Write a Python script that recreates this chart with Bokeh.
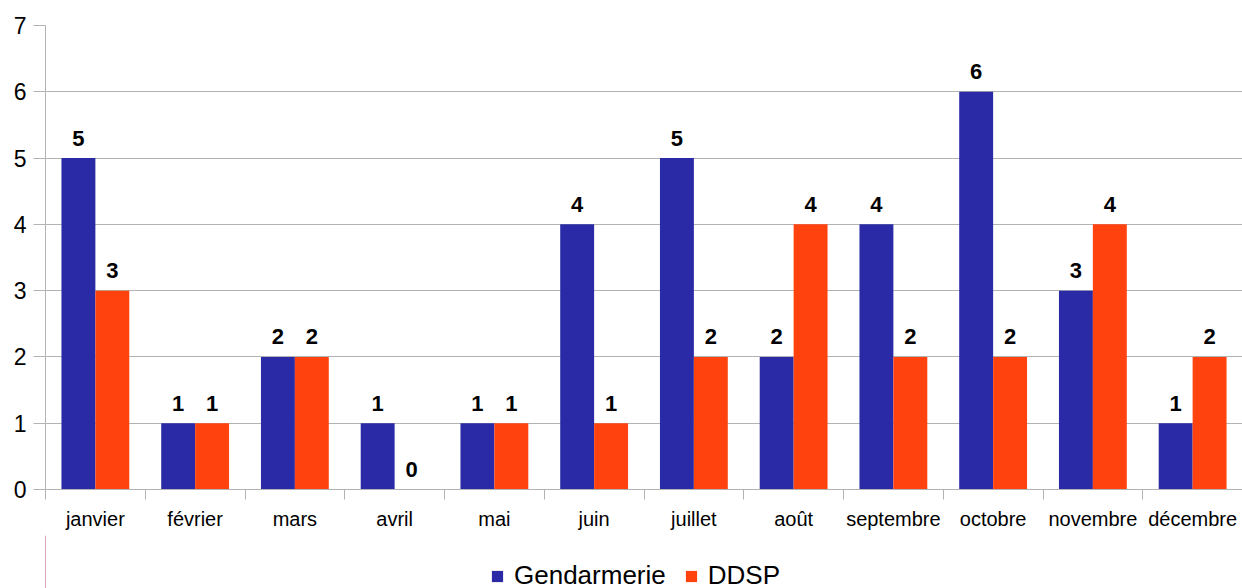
from bokeh.plotting import figure
from bokeh.layouts import column
from bokeh.models import ColumnDataSource, FixedTicker, LabelSet, Legend, LegendItem, Range1d
from bokeh.core.properties import value
from bokeh.embed import file_html
from bokeh.resources import INLINE

months = ["janvier", "février", "mars", "avril", "mai", "juin", "juillet",
          "août", "septembre", "octobre", "novembre", "décembre"]
gendarmerie = [5, 1, 2, 1, 1, 4, 5, 2, 4, 6, 3, 1]
ddsp = [3, 1, 2, 0, 1, 1, 2, 4, 2, 2, 4, 2]
series_names = ["Gendarmerie", "DDSP"]
colors = ["#2A2AA6", "#FF420E"]
y_ticks = [0, 1, 2, 3, 4, 5, 6, 7]

FONT = "Liberation Sans"
GRID = "#b3b3b3"
BAR_W = 0.34

idx = list(range(len(months)))
src_g = ColumnDataSource(dict(x=[i + 0.5 - BAR_W / 2 for i in idx], y=gendarmerie,
                              lab=[str(v) for v in gendarmerie]))
src_d = ColumnDataSource(dict(x=[i + 0.5 + BAR_W / 2 for i in idx], y=ddsp,
                              lab=[str(v) for v in ddsp]))

p = figure(width=1242, height=535, output_backend="svg", toolbar_location=None,
           x_range=Range1d(0, len(months)), y_range=Range1d(0, 7),
           frame_width=1197, frame_height=464,
           min_border_left=45, min_border_right=0, min_border_top=25, min_border_bottom=46)
p.outline_line_color = None
p.background_fill_color = "white"
p.border_fill_color = "white"

p.vbar(x="x", top="y", width=BAR_W, source=src_g, fill_color=colors[0], line_color=None)
p.vbar(x="x", top="y", width=BAR_W, source=src_d, fill_color=colors[1], line_color=None)

for s in (src_g, src_d):
    p.add_layout(LabelSet(x="x", y="y", text="lab", source=s, y_offset=20,
                          text_align="center", text_baseline="middle",
                          text_font=value(FONT), text_font_style="bold",
                          text_font_size="22px", text_color="black"))

# grid
p.xgrid.grid_line_color = None
p.ygrid.grid_line_color = GRID
p.ygrid.ticker = FixedTicker(ticks=y_ticks)

# y axis
ya = p.yaxis[0]
ya.ticker = FixedTicker(ticks=y_ticks)
ya.axis_line_color = GRID
ya.major_tick_line_color = GRID
ya.major_tick_out = 12
ya.major_tick_in = 0
ya.minor_tick_line_color = None
ya.major_label_text_font = FONT
ya.major_label_text_font_size = "23px"
ya.major_label_text_color = "black"
ya.major_label_standoff = 7

# x axis
xa = p.xaxis[0]
xa.ticker = FixedTicker(ticks=[i + 0.5 for i in idx], minor_ticks=[i for i in range(len(months) + 1)])
xa.major_label_overrides = {i + 0.5: m for i, m in zip(idx, months)}
xa.axis_line_color = GRID
xa.major_tick_line_color = None
xa.major_tick_out = 0
xa.major_tick_in = 0
xa.minor_tick_line_color = GRID
xa.minor_tick_out = 10
xa.minor_tick_in = 0
xa.major_label_text_font = FONT
xa.major_label_text_font_size = "20px"
xa.major_label_text_color = "black"
xa.major_label_standoff = 8

# legend strip below the chart (swatch renderers sit outside the visible range)
pl = figure(width=1242, height=53, output_backend="svg", toolbar_location=None,
            x_range=Range1d(0, 1), y_range=Range1d(0, 1),
            min_border_left=0, min_border_right=0, min_border_top=0, min_border_bottom=0)
for ax in pl.axis:
    ax.axis_line_color = None
    ax.major_tick_line_color = None
    ax.minor_tick_line_color = None
    ax.major_label_text_color = None
    ax.visible = False
pl.grid.visible = False
pl.outline_line_color = None
pl.border_fill_color = "white"
lg_g = pl.vbar(x=[-5], top=[1], width=0.1, fill_color=colors[0], line_color=None)
lg_d = pl.vbar(x=[-5], top=[1], width=0.1, fill_color=colors[1], line_color=None)

legend = Legend(items=[LegendItem(label=series_names[0], renderers=[lg_g]),
                       LegendItem(label=series_names[1], renderers=[lg_d])],
                orientation="horizontal", location=(445, -3),
                label_text_font=FONT, label_text_font_size="26px", label_text_color="black",
                glyph_width=14, glyph_height=14, label_standoff=10, spacing=18,
                padding=0, margin=0, border_line_color=None,
                background_fill_alpha=0)
pl.add_layout(legend, "center")

layout = column(p, pl, spacing=0)
open("out.html", "w").write(file_html(layout, INLINE))
